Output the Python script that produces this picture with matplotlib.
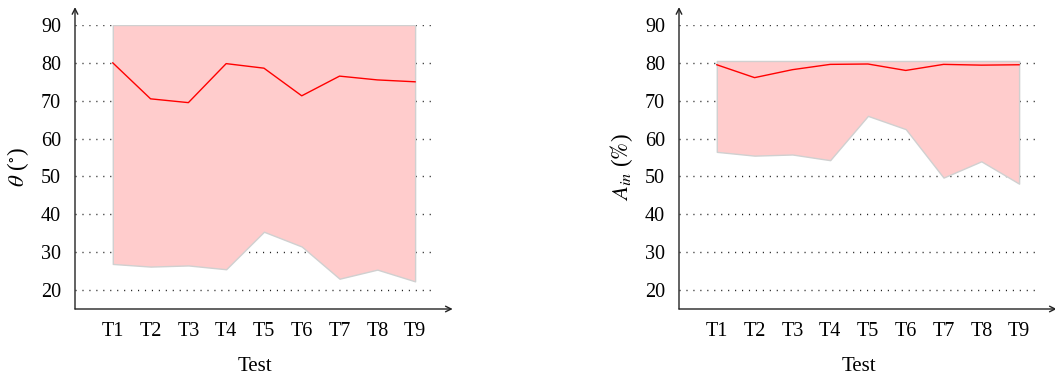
import matplotlib
matplotlib.use("Agg")
import matplotlib.pyplot as plt

plt.rcParams['font.family'] = ['Liberation Serif', 'DejaVu Serif']
plt.rcParams['mathtext.fontset'] = 'stix'

tests = ["T1", "T2", "T3", "T4", "T5", "T6", "T7", "T8", "T9"]

theta_mean = [80.0, 70.5, 69.5, 79.8, 78.6, 71.3, 76.5, 75.5, 75.0]
theta_low = [26.9, 26.2, 26.5, 25.5, 35.4, 31.5, 23.0, 25.4, 22.3]
theta_high = [90, 90, 90, 90, 90, 90, 90, 90, 90]

ain_mean = [79.5, 76.1, 78.2, 79.6, 79.7, 78.0, 79.6, 79.4, 79.5]
ain_low = [56.5, 55.5, 55.8, 54.3, 66.0, 62.5, 49.7, 54.0, 48.1]
ain_high = [80.5, 80.5, 80.5, 80.5, 80.5, 80.5, 80.5, 80.5, 80.5]

yticks = [20, 30, 40, 50, 60, 70, 80, 90]

W, H = 1055, 376
fig = plt.figure(figsize=(W / 100, H / 100), dpi=100)

panels = [
    (75, theta_mean, theta_low, theta_high, r'$\theta$ ($^{\circ}$)'),
    (679, ain_mean, ain_low, ain_high, r'$A_{in}$ ($\%$)'),
]

for x0, mean, low, high, ylabel in panels:
    ax = fig.add_axes([x0 / W, 67 / H, 359 / W, 284 / H])
    xs = list(range(1, len(tests) + 1))
    ax.fill_between(xs, low, high, facecolor='#ffcccc', edgecolor='#d0d0d0',
                    linewidth=1.0, zorder=1)
    ax.plot(xs, mean, color='red', linewidth=1.0, zorder=3)
    ax.set_xlim(0, 9.5)
    ax.set_ylim(15, 90)
    ax.set_xticks(xs)
    ax.set_xticklabels(tests)
    ax.set_yticks(yticks)
    ax.tick_params(axis='both', length=0, labelsize=14.5)
    ax.tick_params(axis='x', pad=9)
    ax.tick_params(axis='y', pad=10)
    ax.yaxis.grid(True, color='#222222', linestyle=(0, (0.8, 4.2)), linewidth=1.0, zorder=0)
    ax.set_axisbelow(True)
    for s in ax.spines.values():
        s.set_visible(False)
    ax.annotate('', xy=(1.052, 0), xytext=(0, 0), xycoords='axes fraction',
                textcoords='axes fraction',
                arrowprops=dict(arrowstyle='->', color='#222222', lw=1.0,
                                shrinkA=0, shrinkB=0), annotation_clip=False)
    ax.annotate('', xy=(0, 1.063), xytext=(0, 0), xycoords='axes fraction',
                textcoords='axes fraction',
                arrowprops=dict(arrowstyle='->', color='#222222', lw=1.0,
                                shrinkA=0, shrinkB=0), annotation_clip=False)
    ax.set_xlabel('Test', fontsize=15, labelpad=12)
    ax.set_ylabel(ylabel, fontsize=16.5, labelpad=7)

fig.savefig('out.png', dpi=100)
